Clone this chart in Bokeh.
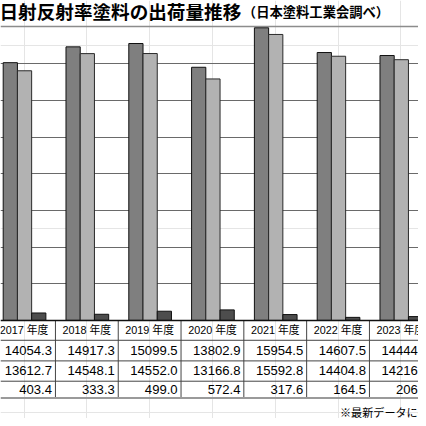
from bokeh.plotting import figure
from bokeh.models import Range1d, Grid, FixedTicker, Span
from bokeh.core.properties import value
from bokeh.embed import file_html
from bokeh.resources import INLINE

# ---- data ----
years = ["2017 年度", "2018 年度", "2019 年度", "2020 年度", "2021 年度", "2022 年度", "2023 年度"]
series_a = [14054.3, 14917.3, 15099.5, 13802.9, 15954.5, 14607.5, 14444.4]
series_b = [13612.7, 14548.1, 14552.0, 13166.8, 15592.8, 14404.8, 14216.5]
series_c = [403.4, 333.3, 499.0, 572.4, 317.6, 164.5, 206.4]
grid_ticks = [2000, 4000, 6000, 8000, 10000, 12000, 14000, 16000]
title_text = "日射反射率塗料の出荷量推移"
subtitle_text = "（日本塗料工業会調べ）"
footnote_text = "※最新データに基づく"

# ---- layout helpers (reference pixel frame 426 x 426) ----
W = H = 418
S = W / 426.0
PITCH = 64.0
C0 = 24.0
BASE = 326.0
TOPLINE = 27.0
K = 16000.0 / (BASE - TOPLINE)


def xr(px):
    return (px - C0) / PITCH


def yr(py):
    return (BASE - py) * K


def fs(px):
    return "%.1fpx" % (px * S)


p = figure(width=W, height=H,
           x_range=Range1d(xr(0), xr(426)), y_range=Range1d(yr(426), yr(0)),
           output_backend="svg", toolbar_location=None,
           x_axis_location=None, y_axis_location=None,
           min_border=0, outline_line_color=None,
           background_fill_color="white", border_fill_color="white")

grid = Grid(dimension=1, ticker=FixedTicker(ticks=grid_ticks[:-1]),
            grid_line_color="#6a6a6a", grid_line_width=1)
p.add_layout(grid)
top_grid = Grid(dimension=1, ticker=FixedTicker(ticks=grid_ticks[-1:]),
                grid_line_color="#8c8c8c", grid_line_width=1.3)
p.add_layout(top_grid)

idx = list(range(len(years)))
BW = 14.5 / PITCH
offs = [-14.0 / PITCH, 0.5 / PITCH, 15.0 / PITCH]
p.vbar(x=[i + offs[0] for i in idx], top=series_a, bottom=0, width=BW,
       fill_color="#7f7f7f", line_color="#111111", line_width=1)
p.vbar(x=[i + offs[1] for i in idx], top=series_b, bottom=0, width=BW,
       fill_color="#b2b2b2", line_color="#2a2a2a", line_width=1)
p.vbar(x=[i + offs[2] for i in idx], top=series_c, bottom=0, width=BW,
       fill_color="#4d4d4d", line_color="#111111", line_width=1)

# table lines
p.add_layout(Span(location=0, dimension="width", line_color="#111111", line_width=1.5))
for py in (346.3, 367.3, 388.0):
    p.add_layout(Span(location=yr(py), dimension="width", line_color="#444444", line_width=1))
p.add_layout(Span(location=yr(405.0), dimension="width", line_color="#9a9a9a", line_width=2))
vx = [i + 0.5 for i in idx[:-1]]
p.segment(x0=vx, y0=[0] * len(vx), x1=vx, y1=[yr(405.0)] * len(vx),
          line_color="#444444", line_width=1)

num_font = value("Liberation Sans, Arial, Noto Sans CJK JP")
p.text(x=idx, y=[yr(335.5)] * len(idx), text=years, text_align="center",
       text_baseline="middle", text_font=num_font, text_font_size=fs(11), text_color="black")
rows = [(series_a, 356.7), (series_b, 377.5), (series_c, 396.5)]
for vals, py in rows:
    p.text(x=[i + 0.5 - 3.5 / PITCH for i in idx], y=[yr(py)] * len(idx),
           text=["%.1f" % v for v in vals], text_align="right", text_baseline="middle",
           text_font=num_font, text_font_size=fs(13.4), text_color="black")

cjk = value("Noto Sans CJK JP")
p.text(x=[xr(-1)], y=[yr(10.5)], text=[title_text], text_align="left", text_baseline="middle",
       text_font=cjk, text_font_style="bold", text_font_size=fs(19), text_color="black")
p.text(x=[xr(247)], y=[yr(11)], text=[subtitle_text], text_align="left", text_baseline="middle",
       text_font=cjk, text_font_style="bold", text_font_size=fs(13.6), text_color="black")
p.text(x=[xr(346)], y=[yr(419)], text=[footnote_text], text_align="left", text_baseline="middle",
       text_font=cjk, text_font_size=fs(11.3), text_color="black")

open("out.html", "w").write(file_html(p, INLINE))
